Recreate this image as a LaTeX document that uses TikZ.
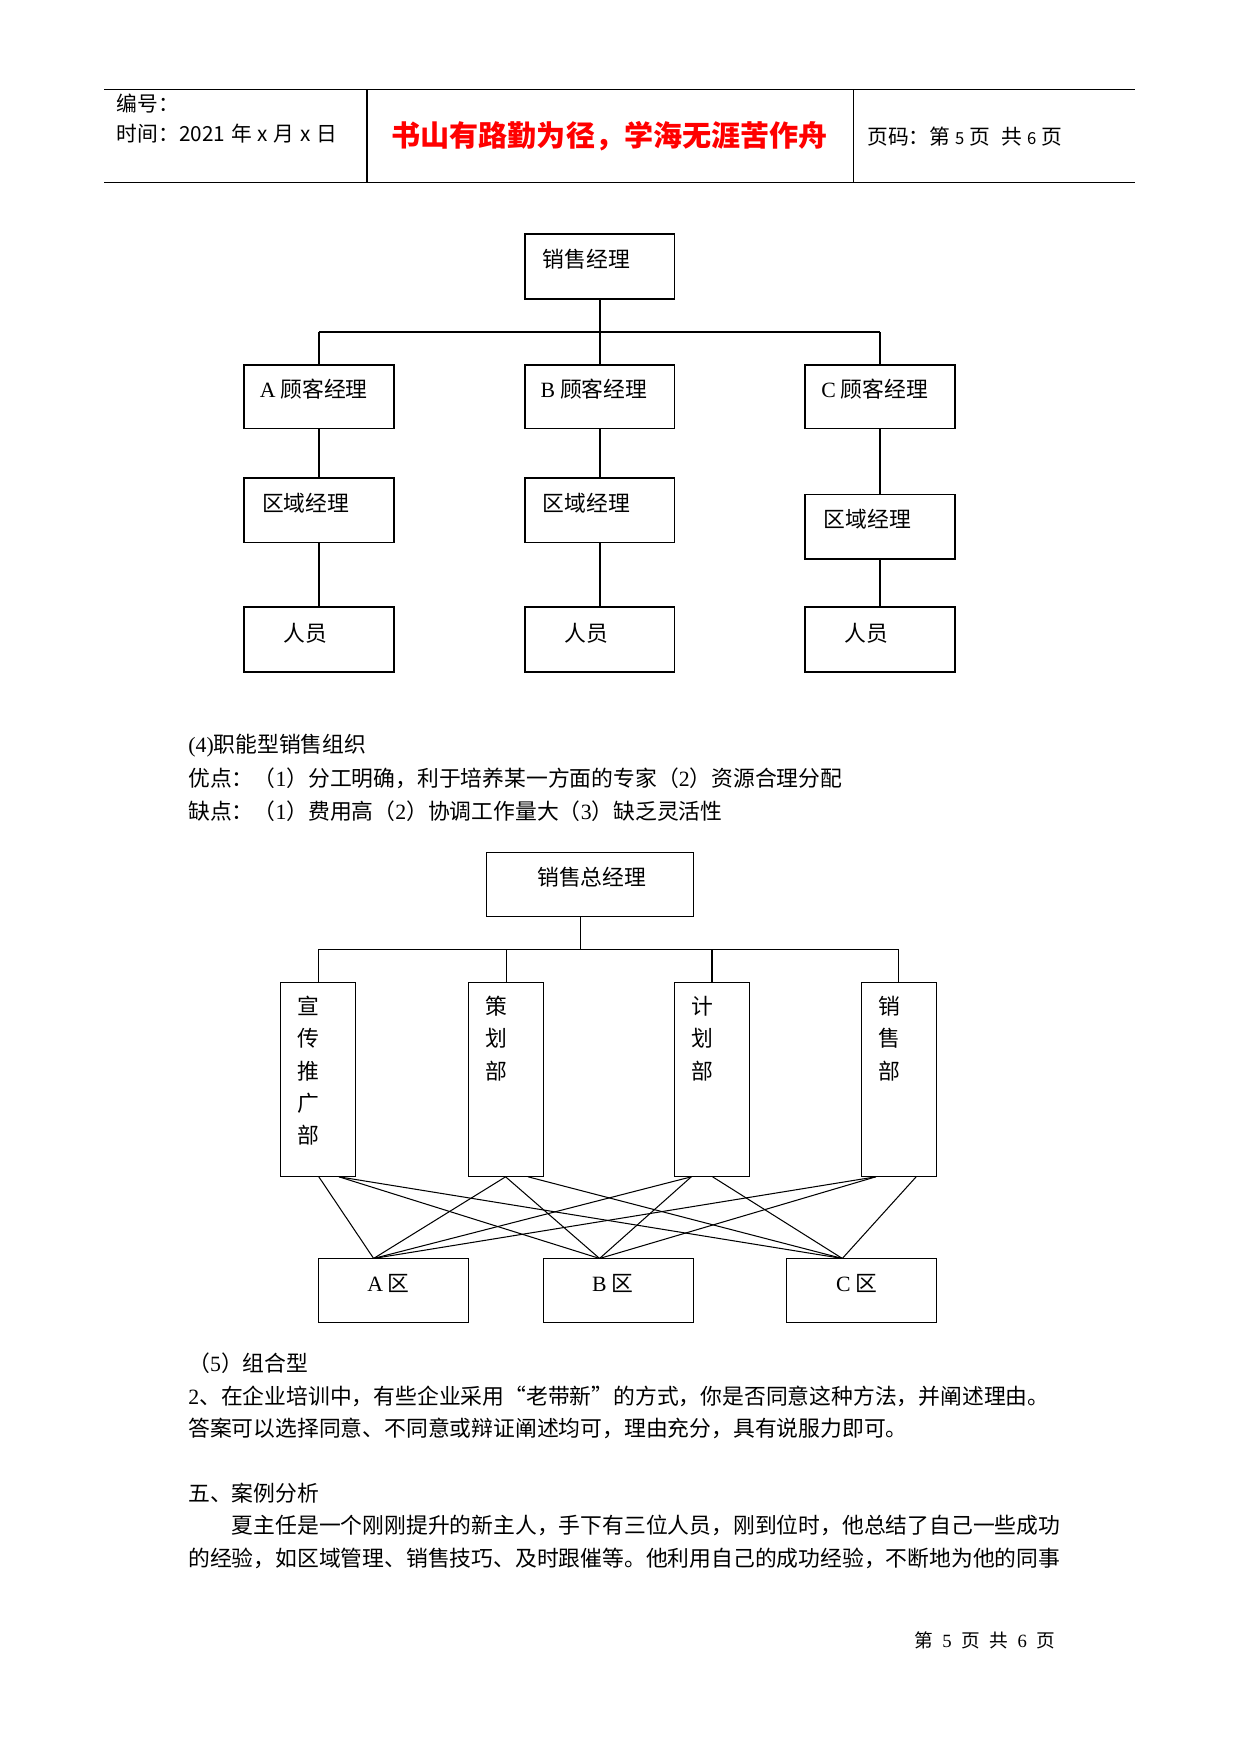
\documentclass[tikz,border=0pt]{standalone}
\usepackage{fontspec}
\setmainfont{Liberation Serif}
\newfontfamily\cj{Noto Sans CJK SC}
\newfontfamily\lat{Liberation Serif}
\newcommand\Uu{0.18936mm}
\newcommand\bx[6][]{\node[box,#1,minimum width={(#5-#3)*\Uu},minimum height={(#6-#4)*\Uu}] (#2) at ({(#3+#5)/2},{(#4+#6)/2}) {};}
\tikzset{
  box/.style={draw, inner sep=0pt, outer sep=0pt},
  thickbox/.style={line width=0.9pt},
  thinbox/.style={line width=0.6pt},
  txt/.style={anchor=west, inner sep=0pt, font=\cj\fontsize{10.5pt}{12pt}\selectfont},
  hdr/.style={anchor=west, inner sep=0pt, font=\cj\fontsize{10pt}{12pt}\selectfont},
  vtxt/.style={anchor=north, inner sep=0pt, align=center, font=\cj\fontsize{10.5pt}{15.6pt}\selectfont},
  link1/.style={line width=0.9pt},
  link2/.style={line width=0.6pt},
  cross/.style={line width=0.5pt},
  rule/.style={line width=0.5pt},
}
\begin{document}
\begin{tikzpicture}[x=0.18936mm,y=-0.18936mm]
\fill[white] (0,0) rectangle (1109,1568);
\useasboundingbox (0,0) rectangle (1109,1568);

% ---------------- header ----------------
\draw[rule] (93,80) -- (1015,80);
\draw[rule] (93,163) -- (1015,163);
\draw[line width=0.8pt] (328,80) -- (328,163);
\draw[rule] (763,80) -- (763,163);
\node[hdr] (h1) at (104,93) {编号：};
\node[hdr] (h2) at (104,119) {时间：2021\hspace{1mm}年\hspace{1mm}x\hspace{1mm}月\hspace{1mm}x\hspace{1mm}日};
\node[anchor=center, inner sep=0pt, text=red, font=\cj\bfseries\fontsize{14pt}{16pt}\selectfont] (h3) at (545,122) {书山有路勤为径，学海无涯苦作舟};
\node[hdr] (h4) at (775,122) {页码：第\hspace{0.8mm}{\fontsize{8pt}{10pt}\selectfont 5}\hspace{0.8mm}页\hspace{2mm}共\hspace{0.8mm}{\fontsize{8pt}{10pt}\selectfont 6}\hspace{0.8mm}页};

% ---------------- chart 1 ----------------
\bx[thickbox]{s0}{469}{209}{603}{267}
\bx[thickbox]{a1}{218}{326}{352}{383}
\bx[thickbox]{b1}{469}{326}{603}{383}
\bx[thickbox]{c1}{720}{326}{854}{383}
\bx[thickbox]{a2}{218}{427}{352}{485}
\bx[thickbox]{b2}{469}{427}{603}{485}
\bx[thickbox]{c2}{720}{442}{854}{500}
\bx[thickbox]{a3}{218}{543}{352}{601}
\bx[thickbox]{b3}{469}{543}{603}{601}
\bx[thickbox]{c3}{720}{543}{854}{601}

\node[txt] (s0t) at (485,232) {销售经理};
\node[txt] (a1t) at (232,348) {{\lat A} 顾客经理};
\node[txt] (b1t) at (483,348) {{\lat B} 顾客经理};
\node[txt] (c1t) at (734,348) {{\lat C} 顾客经理};
\node[txt] (a2t) at (234,450) {区域经理};
\node[txt] (b2t) at (485,450) {区域经理};
\node[txt] (c2t) at (736,464) {区域经理};
\node[txt] (a3t) at (253,566) {人员};
\node[txt] (b3t) at (504,566) {人员};
\node[txt] (c3t) at (755,566) {人员};

\coordinate (busA) at (285,297);
\coordinate (busC) at (787,297);
\draw[link1] (s0.south) -- (b1.north);
\draw[link1] (busA) -- (busC);
\draw[link1] (busA) -- (a1.north);
\draw[link1] (busC) -- (c1.north);
\draw[link1] (a1.south) -- (a2.north);
\draw[link1] (b1.south) -- (b2.north);
\draw[link1] (c1.south) -- (c2.north);
\draw[link1] (a2.south) -- (a3.north);
\draw[link1] (b2.south) -- (b3.north);
\draw[link1] (c2.south) -- (c3.north);

% ---------------- text block 1 ----------------
\node[txt] (l1) at (168,667) {{\lat (4)}职能型销售组织};
\node[txt] (l2) at (168,696) {优点：（{\lat 1}）分工明确，利于培养某一方面的专家（{\lat 2}）资源合理分配};
\node[txt] (l3) at (168,725) {缺点：（{\lat 1}）费用高（{\lat 2}）协调工作量大（{\lat 3}）缺乏灵活性};

% ---------------- chart 2 ----------------
\bx[thinbox]{g0}{435}{762}{620}{819}
\bx[thinbox]{t1}{251}{878}{318}{1052}
\bx[thinbox]{t2}{419}{878}{486}{1052}
\bx[thinbox]{t3}{603}{878}{670}{1052}
\bx[thinbox]{t4}{770}{878}{837}{1052}
\bx[thinbox]{ra}{285}{1125}{419}{1182}
\bx[thinbox]{rb}{486}{1125}{620}{1182}
\bx[thinbox]{rc}{703}{1125}{837}{1182}

\node[txt] (g0t) at (480,784) {销售总经理};
\node[vtxt] (t1t) at (276,890) {宣\\传\\推\\广\\部};
\node[vtxt] (t2t) at (444,890) {策\\划\\部};
\node[vtxt] (t3t) at (628,890) {计\\划\\部};
\node[vtxt] (t4t) at (795,890) {销\\售\\部};
\node[txt] (rat) at (328,1147) {{\lat A} 区};
\node[txt] (rbt) at (529,1147) {{\lat B} 区};
\node[txt] (rct) at (747,1147) {{\lat C} 区};

\coordinate (d0) at (519,849);
\draw[link2] (d0) -- (d0 |- g0.south);
\draw[link2] (t1.north |- d0) -- (t4.north |- d0);
\draw[link2] (t1.north |- d0) -- (t1.north);
\draw[link2] (t2.north |- d0) -- (t2.north);
\draw[link2] (t3.north |- d0) -- (t3.north);
\draw[link2] (t4.north |- d0) -- (t4.north);

% crossing links
\coordinate (pA) at (334,1125);
\coordinate (pB) at (536,1125);
\coordinate (pC) at (753,1125);
\coordinate (q1a) at (285,1052);
\coordinate (q1b) at (303,1052);
\coordinate (q2a) at (452,1052);
\coordinate (q2b) at (472,1052);
\coordinate (q3a) at (618,1052);
\coordinate (q3b) at (637,1052);
\coordinate (q4a) at (783,1052);
\coordinate (q4b) at (819,1052);
\draw[cross] (q1a) -- (pA);
\draw[cross] (q1b) -- (pB);
\draw[cross] (q1b) -- (pC);
\draw[cross] (q2a) -- (pA);
\draw[cross] (q2a) -- (pB);
\draw[cross] (q2b) -- (pC);
\draw[cross] (q3a) -- (pA);
\draw[cross] (q3a) -- (pB);
\draw[cross] (q3b) -- (pC);
\draw[cross] (q4a) -- (pA);
\draw[cross] (q4a) -- (pB);
\draw[cross] (q4b) -- (pC);

% ---------------- text block 2 ----------------
\node[txt] (m1) at (168,1219) {（{\lat 5}）组合型};
\node[txt] (m2) at (168,1248) {{\lat 2}、在企业培训中，有些企业采用“老带新”的方式，你是否同意这种方法，并阐述理由。};
\node[txt] (m3) at (168,1277) {答案可以选择同意、不同意或辩证阐述均可，理由充分，具有说服力即可。};
\node[txt] (m4) at (168,1335) {五、案例分析};
\node[txt] (m5) at (207,1364) {夏主任是一个刚刚提升的新主人，手下有三位人员，刚到位时，他总结了自己一些成功};
\node[txt] (m6) at (168,1393) {的经验，如区域管理、销售技巧、及时跟催等。他利用自己的成功经验，不断地为他的同事};

% ---------------- footer ----------------
\node[anchor=west, inner sep=0pt, font=\cj\fontsize{9pt}{11pt}\selectfont] (ft) at (817,1466) {第\hspace{1.6mm}{\lat 5}\hspace{1.6mm}页\hspace{1.6mm}共\hspace{1.6mm}{\lat 6}\hspace{1.6mm}页};
\end{tikzpicture}
\end{document}
